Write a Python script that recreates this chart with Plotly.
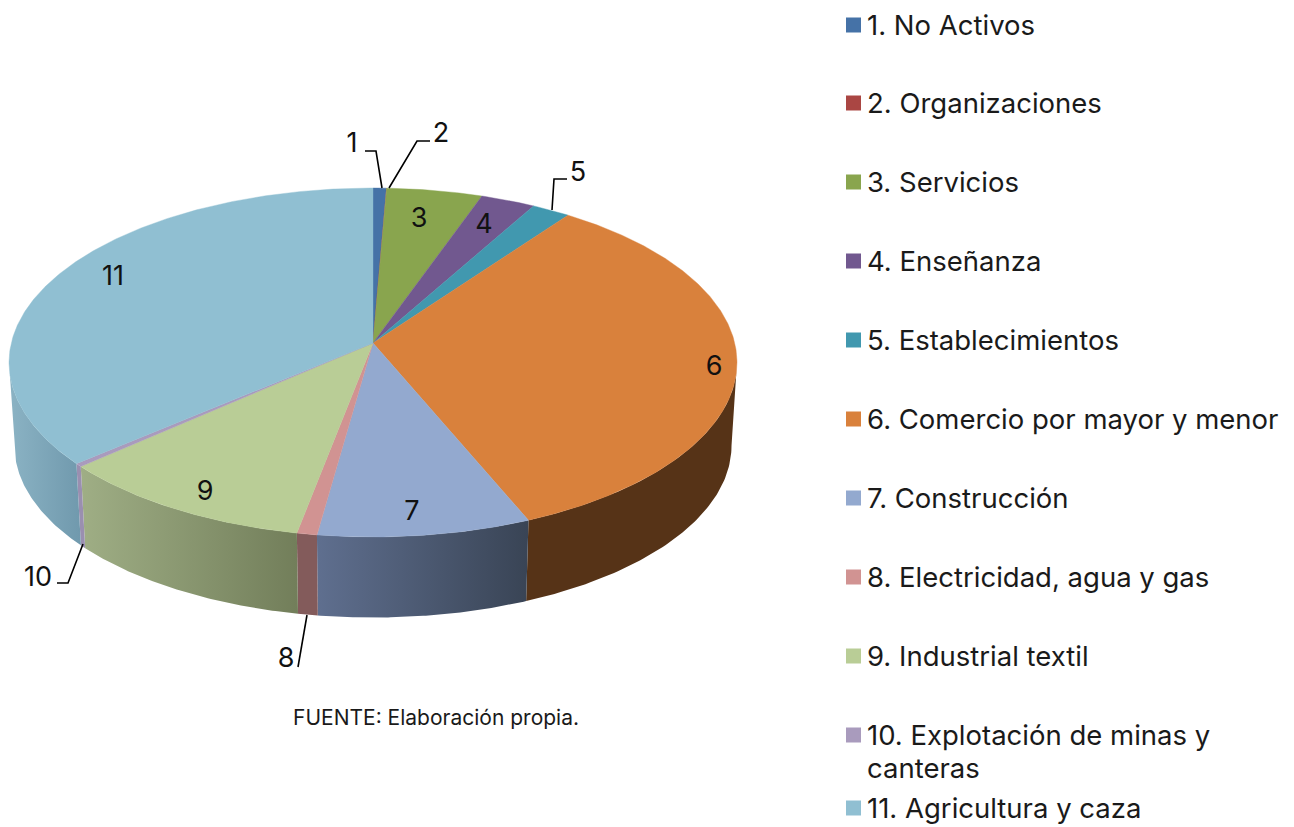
import numpy as np
import plotly.graph_objects as go

categories = ["1. No Activos", "2. Organizaciones", "3. Servicios", "4. Enseñanza",
              "5. Establecimientos", "6. Comercio por mayor y menor", "7. Construcción",
              "8. Electricidad, agua y gas", "9. Industrial textil",
              "10. Explotación de minas y<br>canteras", "11. Agricultura y caza"]
slice_labels = ["1", "2", "3", "4", "5", "6", "7", "8", "9", "10", "11"]
values = [0.65, 0.02, 4.73, 2.7, 1.9, 33.7, 8.5, 0.8, 10.45, 0.3, 36.25]
top_colors = ["#4572a7", "#aa4643", "#89a54e", "#71588f", "#4198af", "#d9813c",
              "#93a9cf", "#d19392", "#b9cd96", "#a99bbd", "#90bfd2"]
side_left = ["#3a5f8b", "#8d3a38", "#72893f", "#5e4977", "#367f92", "#563317",
             "#5f6f8f", "#835b5b", "#9fae85", "#9a8fb0", "#8bb3c4"]
side_right = ["#3a5f8b", "#8d3a38", "#72893f", "#5e4977", "#367f92", "#563317",
              "#394455", "#835b5b", "#727e5a", "#9a8fb0", "#7099ad"]

FONT = "Inter"
W, H = 1294, 827
CX, CY = 373, 343        # apex of the pie on the page
B, A, K = 361.7, 172.3, 0.1117   # perspective projection of the unit disc
BASE_DY, BASE_SCALE = 83.5, 0.985  # bottom rim of the pie
RIM_START, RIM_END = 96.4, 263.6   # where the wall leaves the outline of the disc


def project(deg, scale=1.0, dy=0.0):
    t = np.radians(deg)
    X, Y = np.sin(t), np.cos(t)
    d = 1 + K * Y
    return CX + scale * B * X / d, CY + dy - scale * A * Y / d


edges = np.concatenate([[0], np.cumsum(values)]) / sum(values) * 360
fig = go.Figure()

# side walls first
for i in range(len(values)):
    a0, a1 = max(edges[i], RIM_START), min(edges[i + 1], RIM_END)
    if a1 <= a0:
        continue
    t = np.linspace(a0, a1, 80)
    xt, yt = project(t)
    xb, yb = project(t, BASE_SCALE, BASE_DY)
    fig.add_trace(go.Scatter(
        x=np.concatenate([xt, xb[::-1]]), y=np.concatenate([yt, yb[::-1]]),
        mode="lines", line=dict(width=0), fill="toself",
        fillgradient=dict(type="horizontal",
                          colorscale=[[0, side_left[i]], [1, side_right[i]]]),
        hoverinfo="skip", showlegend=False))

# top faces
for i in range(len(values)):
    t = np.linspace(edges[i], edges[i + 1], max(3, int(edges[i + 1] - edges[i]) * 2))
    xt, yt = project(t)
    fig.add_trace(go.Scatter(
        x=np.concatenate([[CX], xt, [CX]]), y=np.concatenate([[CY], yt, [CY]]),
        mode="lines", line=dict(width=0.4, color=top_colors[i]), fill="toself",
        fillcolor=top_colors[i], hoverinfo="skip", showlegend=False))

# leader lines
leaders = [[(365, 151), (376, 151), (382, 188)], [(430, 141), (417, 141), (389, 188)],
           [(567, 179), (554, 179), (552, 210)], [(57, 583), (68, 583), (83, 544)],
           [(307, 615), (298, 667)]]
for seg in leaders:
    fig.add_trace(go.Scatter(x=[p[0] for p in seg], y=[p[1] for p in seg], mode="lines",
                             line=dict(color="#000000", width=1.6),
                             hoverinfo="skip", showlegend=False))

# slice labels
label_pos = [(352, 145), (441, 135), (419, 220), (484, 226), (578, 174), (714, 368),
             (412, 513), (286, 660), (205, 493), (38, 579), (113, 278)]
fig.add_trace(go.Scatter(x=[p[0] for p in label_pos], y=[p[1] for p in label_pos],
                         mode="text", text=slice_labels, textposition="middle center",
                         textfont=dict(family=FONT, size=27, color="#111111"),
                         hoverinfo="skip", showlegend=False))

# legend
legend_y = [25, 103, 182, 261, 340, 419, 498, 577, 656, 735, 808]
LINE_STEP = 33
fig.add_trace(go.Scatter(x=[853.5] * len(legend_y), y=legend_y, mode="markers",
                         marker=dict(symbol="square", size=15, color=top_colors, line=dict(width=0)),
                         hoverinfo="skip", showlegend=False))
annotations = []
for name, y in zip(categories, legend_y):
    for j, part in enumerate(name.split("<br>")):
        annotations.append(dict(x=867, y=y + j * LINE_STEP, xref="x", yref="y", text=part,
                                showarrow=False, xanchor="left", yanchor="middle",
                                xshift=-2,
                                font=dict(family=FONT, size=27.5, color="#1a1a1a")))
annotations.append(dict(x=436, y=717, xref="x", yref="y", text="FUENTE: Elaboración propia.",
                        showarrow=False, xanchor="center", yanchor="middle",
                        font=dict(family=FONT, size=21, color="#1a1a1a")))

fig.update_layout(width=W, height=H, margin=dict(l=0, r=0, t=0, b=0),
                  paper_bgcolor="white", plot_bgcolor="white", showlegend=False,
                  xaxis=dict(range=[0, W], visible=False, fixedrange=True),
                  yaxis=dict(range=[H, 0], visible=False, fixedrange=True),
                  annotations=annotations)
fig.write_html("out.html", config={"displayModeBar": False},
               post_script="document.body.style.margin='0';document.body.style.overflow='hidden';")
